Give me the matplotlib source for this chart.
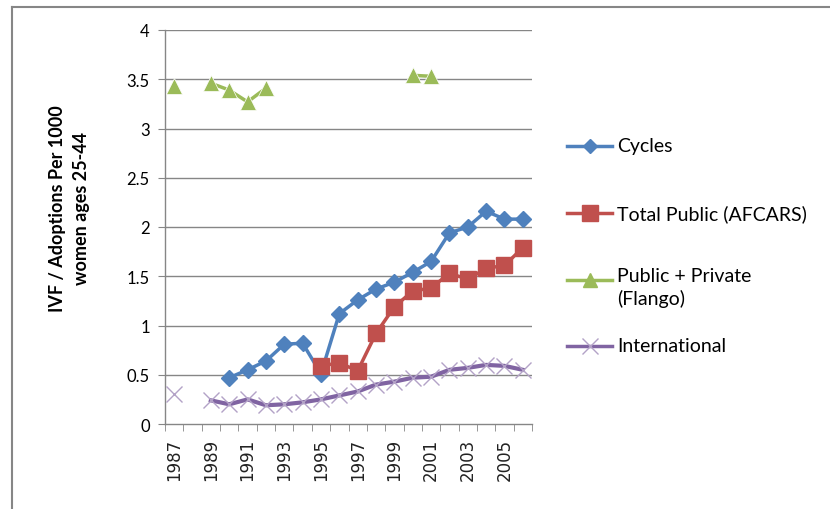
import numpy as np
import matplotlib
matplotlib.use("Agg")
from matplotlib import pyplot as plt
from matplotlib.lines import Line2D

nan = np.nan
years = list( range( 1987, 2007 ) )
cycles = [ nan, nan, nan, 0.47, 0.55, 0.64, 0.81, 0.82, 0.51, 1.12,
           1.26, 1.37, 1.44, 1.54, 1.65, 1.94, 2.00, 2.16, 2.08, 2.08 ]
total_public = [ nan, nan, nan, nan, nan, nan, nan, nan, 0.59, 0.62,
                 0.54, 0.92, 1.19, 1.35, 1.38, 1.53, 1.47, 1.58, 1.61, 1.79 ]
public_private = [ 3.43, nan, 3.46, 3.39, 3.27, 3.41, nan, nan, nan, nan,
                   nan, nan, nan, 3.54, 3.53, nan, nan, nan, nan, nan ]
international = [ 0.30, nan, 0.24, 0.20, 0.25, 0.19, 0.20, 0.22, 0.25, 0.29,
                  0.33, 0.40, 0.43, 0.47, 0.48, 0.55, 0.57, 0.60, 0.59, 0.55 ]
series_names = [ "Cycles", "Total Public (AFCARS)", "Public + Private\n(Flango)", "International" ]
y_ticks = [ 0, 0.5, 1, 1.5, 2, 2.5, 3, 3.5, 4 ]
y_tick_labels = [ "0", "0.5", "1", "1.5", "2", "2.5", "3", "3.5", "4" ]

grey = "#868686"
font = [ "Lato", "DejaVu Sans" ]

fig = plt.figure( figsize=( 8.3, 5.1 ), dpi=100 )
ax = fig.add_axes( [ 165/830, 1 - 425/510, 367/830, 394/510 ] )
x = np.arange( len( years ) )

# international markers separate from its thick line
ax.plot( x, international, color="#8064A2", lw=3, zorder=2 )
ax.plot( x, international, ls="none", marker="x", ms=12, mew=1, color="#B3A2C7", zorder=3 )
ax.plot( x, public_private, color="#9BBB59", lw=2.5, marker="^", ms=11, mec="white", mew=0.5, zorder=4 )
ax.plot( x, cycles, color="#4F81BD", lw=2.5, marker="D", ms=8, mec="#4F81BD", zorder=5 )
ax.plot( x, total_public, color="#C0504D", lw=2.5, marker="s", ms=11, zorder=6 )

ax.set_ylim( 0, 4 )
ax.set_xlim( -0.5, len( years ) - 0.5 )
ax.set_yticks( y_ticks )
ax.set_yticklabels( y_tick_labels, fontfamily=font, fontsize=12 )
for yv in y_ticks[1:]:
    ax.axhline( yv, color=grey, lw=1, zorder=1 )
ax.set_xticks( x[::2] )
ax.set_xticklabels( [ str( y ) for y in years[::2] ], rotation=90, fontsize=12, color="#222222" )
ax.set_xticks( np.arange( -0.5, len( years ), 1 ), minor=True )
ax.tick_params( axis="x", which="major", length=0, pad=10 )
ax.tick_params( axis="x", which="minor", length=5, color=grey, direction="out" )
ax.tick_params( axis="y", length=5, color=grey, pad=6 )
for side in [ "top", "right" ]:
    ax.spines[side].set_visible( False )
for side in [ "left", "bottom" ]:
    ax.spines[side].set_color( grey )
    ax.spines[side].set_linewidth( 1 )

fig.text( 69/830, 1 - 209/510, "IVF / Adoptions Per 1000\nwomen ages 25-44", rotation=90,
          ha="center", va="center", fontsize=13, fontweight="bold", fontfamily=font,
          linespacing=1.5 )

# legend drawn by hand to match spacing
legend_y = [ 147, 214, 281, 347 ]
styles = [ dict( color="#4F81BD", marker="D", ms=7 ),
           dict( color="#C0504D", marker="s", ms=11 ),
           dict( color="#9BBB59", marker="^", ms=10 ),
           dict( color="#8064A2", marker=None ) ]
for name, ly, st in zip( series_names, legend_y, styles ):
    yf = 1 - ly/510
    fig.add_artist( Line2D( [ 567/830, 612/830 ], [ yf, yf ], color=st["color"], lw=2.5 ) )
    if st["marker"]:
        fig.add_artist( Line2D( [ 590/830 ], [ yf ], color=st["color"], marker=st["marker"], ms=st["ms"] ) )
    else:
        fig.add_artist( Line2D( [ 590/830 ], [ yf ], color="#B3A2C7", marker="x", ms=11, mew=1 ) )
    if "\n" in name:
        fig.text( 617/830, yf + 13/510, name, ha="left", va="top", fontsize=14,
                  fontfamily=font, linespacing=1.3 )
    else:
        fig.text( 617/830, yf, name, ha="left", va="center", fontsize=14, fontfamily=font )

# outer frame (top and left edges only visible)
fig.add_artist( Line2D( [ 12/830, 1 ], [ 1 - 8/510, 1 - 8/510 ], color=grey, lw=1.5 ) )
fig.add_artist( Line2D( [ 12/830, 12/830 ], [ 0, 1 - 8/510 ], color=grey, lw=1.5 ) )

fig.savefig( "out.png", dpi=100 )
